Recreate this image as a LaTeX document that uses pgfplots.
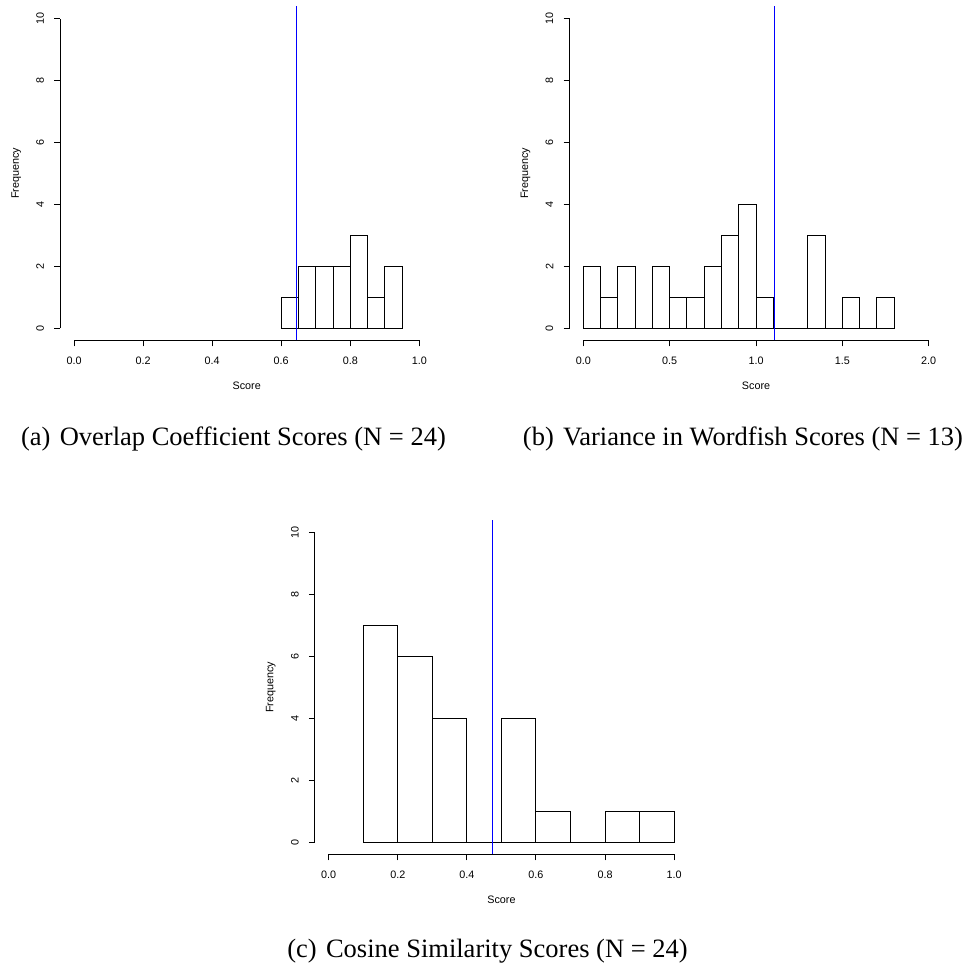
\documentclass[border=0pt]{standalone}
\usepackage{pgfplots}
\pgfplotsset{compat=1.18}
\usepackage{fontspec}
\setmainfont{Liberation Serif}
\newfontfamily\hv{Liberation Sans}
\pgfplotsset{
  rhist/.style={
    scale only axis, width=373pt, height=334pt, ymin=-0.4, ymax=10.4,
    axis x line*=bottom, axis y line*=left, axis line style={draw=none},
    tick align=outside, major tick length=6pt, minor tick num=0,
    every tick/.style={black, line width=0.9pt},
    /pgf/number format/assume math mode=true,
    tick label style={font=\hv\fontsize{10.8}{13}\selectfont},
    label style={font=\hv\fontsize{10.8}{13}\selectfont},
    ytick={0,2,4,6,8,10},
    yticklabel style={anchor=center, xshift=-14pt, rotate=90},
    xticklabel style={anchor=center, yshift=-14pt,
      /pgf/number format/.cd, fixed, fixed zerofill, precision=1},
    clip=false,
    xlabel=Score, ylabel=Frequency,
    xlabel style={at={(axis description cs:0.5,-0.137)}, anchor=center},
    ylabel style={at={(axis description cs:-0.118,0.5)}, anchor=center},
  },
  hbar/.style={ybar interval, draw=black, fill=white, line width=0.9pt},
  vline/.style={color=blue, line width=0.9pt},
  aline/.style={black, line width=0.9pt},
}
\begin{document}
\begin{tikzpicture}
\useasboundingbox (0,0) rectangle (966pt,965pt);
% (a)
\begin{axis}[rhist, at={(60.2pt,624.6pt)}, anchor=south west,
  xmin=-0.04, xmax=1.04, xtick={0,0.2,0.4,0.6,0.8,1.0}]
\addplot[hbar] coordinates {(0.60,1) (0.65,2) (0.70,2) (0.75,2) (0.80,3) (0.85,1) (0.90,2) (0.95,0)};
\addplot[aline] coordinates {(0,-0.4) (1,-0.4)};
\addplot[aline] coordinates {(-0.04,0) (-0.04,10)};
\addplot[vline] coordinates {(0.644,-0.4) (0.644,10.4)};
\end{axis}
% (b)
\begin{axis}[rhist, at={(569.5pt,624.6pt)}, anchor=south west,
  xmin=-0.08, xmax=2.08, xtick={0,0.5,1.0,1.5,2.0}]
\addplot[hbar] coordinates {(0,2) (0.1,1) (0.2,2) (0.3,0) (0.4,2) (0.5,1) (0.6,1) (0.7,2) (0.8,3) (0.9,4) (1.0,1) (1.1,0) (1.2,0) (1.3,3) (1.4,0) (1.5,1) (1.6,0) (1.7,1) (1.8,0)};
\addplot[aline] coordinates {(0,-0.4) (2,-0.4)};
\addplot[aline] coordinates {(-0.08,0) (-0.08,10)};
\addplot[vline] coordinates {(1.105,-0.4) (1.105,10.4)};
\end{axis}
% (c)
\begin{axis}[rhist, at={(314.9pt,110.6pt)}, anchor=south west,
  xmin=-0.04, xmax=1.04, xtick={0,0.2,0.4,0.6,0.8,1.0}]
\addplot[hbar] coordinates {(0.1,7) (0.2,6) (0.3,4) (0.4,0) (0.5,4) (0.6,1) (0.7,0) (0.8,1) (0.9,1) (1.0,0)};
\addplot[aline] coordinates {(0,-0.4) (1,-0.4)};
\addplot[aline] coordinates {(-0.04,0) (-0.04,10)};
\addplot[vline] coordinates {(0.473,-0.4) (0.473,10.4)};
\end{axis}
\node[anchor=base, font=\fontsize{26.5}{30}\selectfont, inner sep=0pt] at (233.5pt,519pt) {(a)\hspace{0.35em}Overlap Coefficient Scores (N = 24)};
\node[anchor=base, font=\fontsize{26.5}{30}\selectfont, inner sep=0pt] at (743pt,519pt) {(b)\hspace{0.35em}Variance in Wordfish Scores (N = 13)};
\node[anchor=base, font=\fontsize{26.5}{30}\selectfont, inner sep=0pt] at (487.5pt,7pt) {(c)\hspace{0.35em}Cosine Similarity Scores (N = 24)};
\end{tikzpicture}
\end{document}
